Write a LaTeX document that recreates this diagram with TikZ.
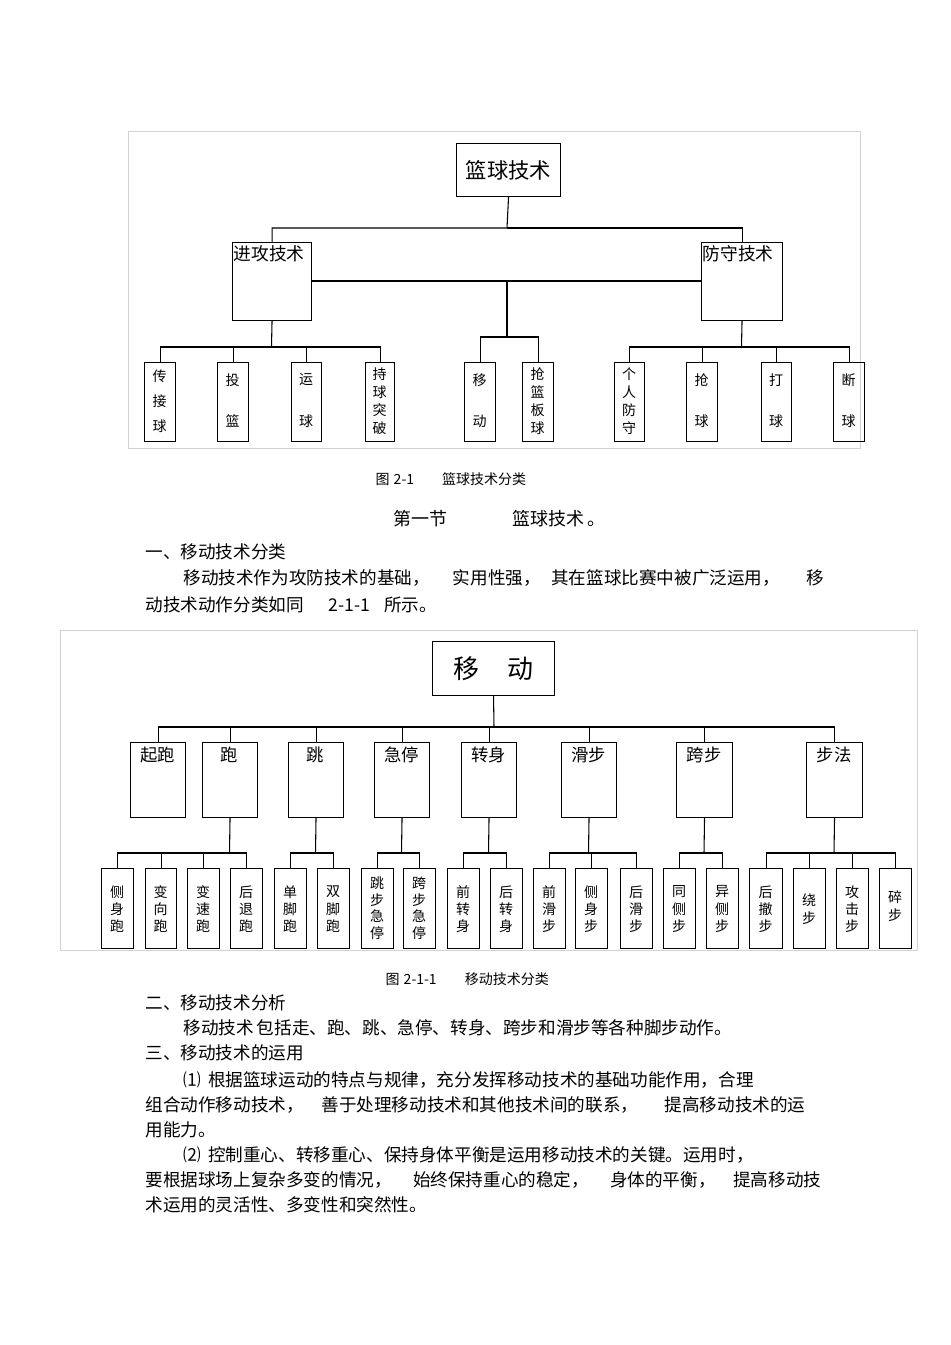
\documentclass[tikz,border=0pt]{standalone}
\usepackage{fontspec}
\newfontfamily\cjk{Noto Sans CJK SC}
\newcommand\fs[1]{\cjk\fontsize{#1}{#1}\selectfont}
\newcommand\vleaf[9]{%
  \node[draw, line width=0.8pt, inner sep=0, anchor=north west,
        minimum width={(#3-#2)*0.75pt}, minimum height={(#5-#4)*0.75pt}] (#1) at (#2,#4) {};
  \foreach \c [count=\i] in {#8} \node[font=#9] at ({(#2+#3)/2},{#6+(\i-1)*#7}) {\c};}
\newcommand\midbx[4]{\node[draw, inner sep=0, anchor=north west, minimum width={(#3-#2)*0.75pt}, minimum height={75*0.75pt}] (#1) at (#2,742) {};
  \node[font=\fs{13pt}] at ({(#2+#3)/2},755) {#4};}
\begin{document}
\begin{tikzpicture}[x=0.75pt,y=-0.75pt,line width=0.8pt,
  txt/.style={anchor=west,inner sep=0,font=\fs{13.2pt}},
  figcap/.style={anchor=west,inner sep=0,font=\fs{10.5pt}}]
\useasboundingbox (0,0) rectangle (950,1345);
\fill[white] (0,0) rectangle (950,1345);
% ---------- chart 1 ----------
\draw[gray!35, line width=0.6pt] (128,131) rectangle (860,448);
\node[draw, inner sep=0, anchor=north west, minimum width={104*0.75pt}, minimum height={53*0.75pt}, font=\fs{16pt}] (top) at (456,143) {篮球技术};
\node[draw, inner sep=0, anchor=north west, minimum width={79*0.75pt}, minimum height={78*0.75pt}] (L) at (232,242) {};
\node[anchor=north west, inner sep=0, font=\fs{13.3pt}] at (233,245) {进攻技术};
\node[draw, inner sep=0, anchor=north west, minimum width={81*0.75pt}, minimum height={78*0.75pt}] (R) at (701,242) {};
\node[anchor=north west, inner sep=0, font=\fs{13.3pt}] at (702,245) {防守技术};
\draw (top.south) -- (507,228) -| (L.north);
\draw (507,228) -| (R.north);
\coordinate (m) at (507,281);
\draw (L.east |- m) -- (R.west |- m);
\vleaf{a1}{144}{175}{362}{441}{376}{25}{传,接,球}{\fs{10.5pt}}
\vleaf{a2}{217}{248}{362}{441}{380}{41}{投,篮}{\fs{10.5pt}}
\vleaf{a3}{291}{321}{362}{441}{380}{41}{运,球}{\fs{10.5pt}}
\vleaf{a4}{365}{394}{362}{441}{374}{18}{持,球,突,破}{\fs{10.5pt}}
\vleaf{b1}{464}{495}{362}{441}{380}{41}{移,动}{\fs{10.5pt}}
\vleaf{b2}{522}{553}{362}{441}{374}{18}{抢,篮,板,球}{\fs{10.5pt}}
\vleaf{c1}{614}{644}{362}{441}{374}{18}{个,人,防,守}{\fs{10.5pt}}
\vleaf{c2}{686}{717}{362}{441}{380}{41}{抢,球}{\fs{10.5pt}}
\vleaf{c3}{761}{791}{362}{441}{380}{41}{打,球}{\fs{10.5pt}}
\vleaf{c4}{833}{864}{362}{441}{380}{41}{断,球}{\fs{10.5pt}}
\draw (L.south) -- (271.5,347);
\foreach \n in {a1,a2,a3,a4} \draw (271.5,347) -| (\n.north);
\draw (m) -- (507,337);
\foreach \n in {b1,b2} \draw (507,337) -| (\n.north);
\draw (R.south) -- (741.5,347);
\foreach \n in {c1,c2,c3,c4} \draw (741.5,347) -| (\n.north);
\node[figcap] at (375,479) {图\hspace{0.3em}2-1\hspace{2em}篮球技术分类};
% ---------- text ----------
\node[anchor=west,inner sep=0,font=\fs{13.5pt}] at (393,519) {第一节\hspace{3.6em}篮球技术\,。};
\node[txt] at (145,552) {一、移动技术分类};
\node[txt] at (183,578) {移动技术作为攻防技术的基础，\hspace{1.3em}实用性强，\hspace{0.6em}其在篮球比赛中被广泛运用，\hspace{1.5em}移};
\node[txt] at (145,605) {动技术动作分类如同\hspace{1.4em}2-1-1\hspace{0.8em}所示。};
% ---------- chart 2 ----------
\draw[gray!35, line width=0.6pt] (60,630) rectangle (917,950);
\node[draw, inner sep=0, anchor=north west, minimum width={122*0.75pt}, minimum height={54*0.75pt}, font=\fs{19.5pt}] (top2) at (432,641) {移\hspace{1.1em}动};
\midbx{m1}{130}{185}{起跑}
\midbx{m2}{202}{257}{跑}
\midbx{m3}{288}{343}{跳}
\midbx{m4}{374}{429}{急停}
\midbx{m5}{461}{516}{转身}
\midbx{m6}{561}{616}{滑步}
\midbx{m7}{676}{732}{跨步}
\midbx{m8}{806}{862}{步法}
\draw (top2.south) -- (494,727);
\foreach \n in {m1,m2,m3,m4,m5,m6,m7,m8} \draw (494,727) -| (\n.north);
\def\lf{\fs{10.5pt}}
\vleaf{p1}{101}{133}{868}{948}{892}{17}{侧,身,跑}{\lf}
\vleaf{p2}{145}{176}{868}{948}{892}{17}{变,向,跑}{\lf}
\vleaf{p3}{187}{219}{868}{948}{892}{17}{变,速,跑}{\lf}
\vleaf{p4}{230}{262}{868}{948}{892}{17}{后,退,跑}{\lf}
\vleaf{q1}{274}{306}{868}{948}{892}{17}{单,脚,跑}{\lf}
\vleaf{q2}{317}{349}{868}{948}{892}{17}{双,脚,跑}{\lf}
\vleaf{r1}{361}{393}{868}{948}{883}{16.7}{跳,步,急,停}{\lf}
\vleaf{r2}{403}{435}{868}{948}{883}{16.7}{跨,步,急,停}{\lf}
\vleaf{s1}{447}{479}{868}{948}{892}{17}{前,转,身}{\lf}
\vleaf{s2}{490}{522}{868}{948}{892}{17}{后,转,身}{\lf}
\vleaf{t1}{533}{565}{868}{948}{892}{17}{前,滑,步}{\lf}
\vleaf{t2}{575}{607}{868}{948}{892}{17}{侧,身,步}{\lf}
\vleaf{t3}{620}{652}{868}{948}{892}{17}{后,滑,步}{\lf}
\vleaf{u1}{663}{695}{868}{948}{892}{17}{同,侧,步}{\lf}
\vleaf{u2}{706}{738}{868}{948}{892}{17}{异,侧,步}{\lf}
\vleaf{v1}{749}{782}{868}{948}{892}{17}{后,撤,步}{\lf}
\vleaf{v2}{793}{825}{868}{948}{900}{18}{绕,步}{\lf}
\vleaf{v3}{836}{868}{868}{948}{892}{17}{攻,击,步}{\lf}
\vleaf{v4}{879}{911}{868}{948}{897}{18}{碎,步}{\lf}
\draw (m2.south) -- (229.5,853); \foreach \n in {p1,p2,p3,p4} \draw (229.5,853) -| (\n.north);
\draw (m3.south) -- (315.5,853); \foreach \n in {q1,q2} \draw (315.5,853) -| (\n.north);
\draw (m4.south) -- (401.5,853); \foreach \n in {r1,r2} \draw (401.5,853) -| (\n.north);
\draw (m5.south) -- (488.5,853); \foreach \n in {s1,s2} \draw (488.5,853) -| (\n.north);
\draw (m6.south) -- (588.5,853); \foreach \n in {t1,t2,t3} \draw (588.5,853) -| (\n.north);
\draw (m7.south) -- (704,853); \foreach \n in {u1,u2} \draw (704,853) -| (\n.north);
\draw (m8.south) -- (834,853); \foreach \n in {v1,v2,v3,v4} \draw (834,853) -| (\n.north);
\node[figcap] at (385,979) {图\hspace{0.3em}2-1-1\hspace{2em}移动技术分类};
% ---------- text ----------
\node[txt] at (145,1003) {二、移动技术分析};
\node[txt] at (183,1028) {移动技术\,包括走、跑、跳、急停、转身、跨步和滑步等各种脚步动作。};
\node[txt] at (145,1053) {三、移动技术的运用};
\node[txt] at (183,1080) {⑴\hspace{0.4em}根据篮球运动的特点与规律，充分发挥移动技术的基础功能作用，合理};
\node[txt] at (145,1105) {组合动作移动技术，\hspace{1em}善于处理移动技术和其他技术间的联系，\hspace{1.5em}提高移动技术的运};
\node[txt] at (145,1130) {用能力。};
\node[txt] at (183,1155) {⑵\hspace{0.4em}控制重心、转移重心、保持身体平衡是运用移动技术的关键。运用时，};
\node[txt] at (145,1180) {要根据球场上复杂多变的情况，\hspace{1.2em}始终保持重心的稳定，\hspace{1.2em}身体的平衡，\hspace{1em}提高移动技};
\node[txt] at (145,1205) {术运用的灵活性、多变性和突然性。};
\end{tikzpicture}
\end{document}
